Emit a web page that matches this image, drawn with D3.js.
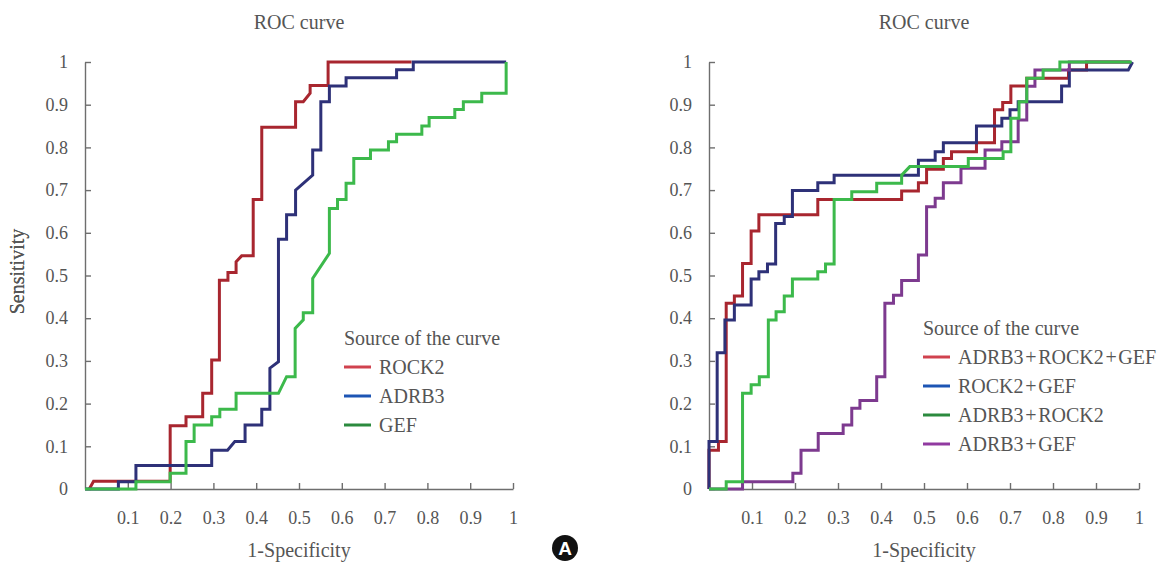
<!DOCTYPE html>
<html>
<head>
<meta charset="utf-8">
<script src="https://cdn.jsdelivr.net/npm/d3@7"></script>
<style>
  body { margin: 0; background: #fff; }
  svg text { font-family: "Liberation Serif", "DejaVu Serif", serif; fill: #555; }
</style>
</head>
<body>
<script>
// ROC curves: [1-specificity, sensitivity]
const rock2 = [[0.01,0],[0.02,0.018],[0.199,0.018],[0.199,0.148],[0.236,0.148],[0.236,0.169],[0.275,0.169],[0.275,0.224],[0.296,0.224],[0.296,0.302],[0.314,0.302],[0.314,0.489],[0.334,0.489],[0.334,0.507],[0.353,0.507],[0.353,0.532],[0.366,0.546],[0.393,0.546],[0.393,0.678],[0.413,0.678],[0.413,0.847],[0.492,0.847],[0.492,0.907],[0.51,0.907],[0.526,0.927],[0.526,0.945],[0.568,0.945],[0.568,1],[0.763,1]];
const adrb3 = [[0,0],[0.078,0],[0.078,0.017],[0.119,0.017],[0.119,0.055],[0.296,0.055],[0.296,0.091],[0.333,0.091],[0.35,0.111],[0.374,0.111],[0.374,0.15],[0.413,0.15],[0.413,0.187],[0.432,0.187],[0.432,0.283],[0.452,0.298],[0.452,0.585],[0.471,0.585],[0.471,0.642],[0.492,0.642],[0.492,0.7],[0.532,0.735],[0.532,0.794],[0.551,0.794],[0.551,0.907],[0.571,0.907],[0.571,0.944],[0.61,0.944],[0.61,0.963],[0.728,0.963],[0.728,0.982],[0.767,0.982],[0.767,1],[0.984,1]];
const gef = [[0,0],[0.119,0],[0.119,0.017],[0.199,0.017],[0.199,0.037],[0.236,0.037],[0.236,0.111],[0.255,0.111],[0.255,0.15],[0.296,0.15],[0.296,0.169],[0.315,0.169],[0.315,0.187],[0.353,0.187],[0.353,0.224],[0.452,0.224],[0.471,0.263],[0.491,0.263],[0.491,0.376],[0.51,0.396],[0.51,0.413],[0.532,0.413],[0.532,0.493],[0.571,0.552],[0.571,0.657],[0.59,0.657],[0.59,0.678],[0.61,0.678],[0.61,0.716],[0.628,0.716],[0.628,0.774],[0.667,0.774],[0.667,0.794],[0.709,0.794],[0.709,0.813],[0.728,0.813],[0.728,0.831],[0.787,0.831],[0.787,0.85],[0.804,0.85],[0.804,0.87],[0.864,0.87],[0.864,0.889],[0.884,0.889],[0.884,0.907],[0.927,0.907],[0.927,0.927],[0.984,0.927],[0.984,1]];

const adrb3Rock2Gef = [[0,0],[0,0.091],[0.022,0.091],[0.022,0.111],[0.04,0.111],[0.04,0.435],[0.059,0.435],[0.059,0.452],[0.078,0.452],[0.078,0.528],[0.098,0.528],[0.098,0.604],[0.116,0.604],[0.116,0.642],[0.253,0.642],[0.253,0.678],[0.448,0.678],[0.448,0.698],[0.487,0.698],[0.487,0.717],[0.506,0.717],[0.506,0.749],[0.545,0.749],[0.545,0.774],[0.564,0.774],[0.564,0.79],[0.622,0.79],[0.622,0.811],[0.664,0.811],[0.664,0.888],[0.683,0.888],[0.683,0.905],[0.702,0.905],[0.702,0.944],[0.739,0.944],[0.739,0.962],[0.836,0.962],[0.836,0.981],[0.878,0.981],[0.878,1],[0.98,1]];
const rock2Gef = [[0,0],[0,0.111],[0.019,0.111],[0.019,0.319],[0.037,0.319],[0.037,0.396],[0.059,0.396],[0.059,0.431],[0.098,0.431],[0.098,0.492],[0.116,0.492],[0.116,0.509],[0.136,0.509],[0.136,0.527],[0.155,0.527],[0.155,0.622],[0.175,0.622],[0.175,0.638],[0.194,0.638],[0.194,0.699],[0.253,0.699],[0.253,0.717],[0.291,0.717],[0.291,0.735],[0.487,0.735],[0.487,0.77],[0.526,0.77],[0.526,0.79],[0.545,0.79],[0.545,0.811],[0.622,0.811],[0.622,0.85],[0.681,0.85],[0.681,0.868],[0.7,0.868],[0.7,0.888],[0.719,0.888],[0.719,0.907],[0.82,0.907],[0.82,0.944],[0.838,0.944],[0.838,0.981],[0.975,0.981],[0.985,1]];
const adrb3Rock2 = [[0,0],[0.04,0],[0.04,0.017],[0.078,0.017],[0.078,0.224],[0.098,0.224],[0.098,0.244],[0.117,0.244],[0.117,0.263],[0.138,0.263],[0.138,0.396],[0.156,0.396],[0.156,0.415],[0.175,0.415],[0.175,0.452],[0.194,0.452],[0.194,0.492],[0.253,0.492],[0.253,0.509],[0.271,0.509],[0.271,0.527],[0.291,0.527],[0.291,0.678],[0.332,0.678],[0.332,0.696],[0.39,0.696],[0.39,0.716],[0.448,0.716],[0.448,0.735],[0.467,0.755],[0.603,0.755],[0.603,0.774],[0.684,0.774],[0.684,0.79],[0.702,0.79],[0.702,0.868],[0.721,0.868],[0.721,0.907],[0.739,0.907],[0.739,0.962],[0.777,0.962],[0.777,0.981],[0.816,0.981],[0.816,1],[0.983,1]];
const adrb3Gef = [[0,0],[0.078,0],[0.078,0.017],[0.195,0.017],[0.195,0.037],[0.214,0.037],[0.214,0.091],[0.254,0.091],[0.254,0.13],[0.312,0.13],[0.312,0.15],[0.332,0.15],[0.332,0.189],[0.351,0.189],[0.351,0.207],[0.39,0.207],[0.39,0.263],[0.409,0.263],[0.409,0.435],[0.429,0.435],[0.429,0.454],[0.448,0.454],[0.448,0.488],[0.487,0.488],[0.487,0.548],[0.506,0.548],[0.506,0.661],[0.526,0.661],[0.526,0.681],[0.545,0.681],[0.545,0.717],[0.586,0.717],[0.586,0.751],[0.642,0.751],[0.642,0.794],[0.681,0.794],[0.681,0.813],[0.719,0.813],[0.719,0.864],[0.739,0.864],[0.739,0.943],[0.758,0.943],[0.758,0.981],[0.838,0.981],[0.838,1],[0.98,1]];

const xTicks = [0.1, 0.2, 0.3, 0.4, 0.5, 0.6, 0.7, 0.8, 0.9, 1];
const yTicks = [0, 0.1, 0.2, 0.3, 0.4, 0.5, 0.6, 0.7, 0.8, 0.9, 1];

const leftSeries = [
  { name: "ROCK2", data: rock2, line: "#a8262f", key: "#d0424e" },
  { name: "ADRB3", data: adrb3, line: "#2e3178", key: "#1d55b4" },
  { name: "GEF", data: gef, line: "#3cb94b", key: "#2b8a3e" }
];
const rightSeries = [
  { name: "ADRB3\u200a+\u200aROCK2\u200a+\u200aGEF", data: adrb3Rock2Gef, line: "#a8262f", key: "#d0424e" },
  { name: "ROCK2\u200a+\u200aGEF", data: rock2Gef, line: "#2e3178", key: "#1d55b4" },
  { name: "ADRB3\u200a+\u200aROCK2", data: adrb3Rock2, line: "#3cb94b", key: "#2b8a3e" },
  { name: "ADRB3\u200a+\u200aGEF", data: adrb3Gef, line: "#7d3a8f", key: "#913aa0" }
];
// draw order (purple under green on the right)
const rightOrder = [0, 1, 3, 2];

const serif = '"Liberation Serif", "DejaVu Serif", serif';

const svg = d3.select("body").append("svg")
  .attr("width", 1159)
  .attr("height", 562);

function panel(left, w, series, order, legendX, legendY) {
  const top = 62, h = 427;
  const x = d3.scaleLinear().domain([0, 1]).range([0, w]);
  const y = d3.scaleLinear().domain([0, 1]).range([h, 0]);
  const g = svg.append("g").attr("transform", "translate(" + left + "," + top + ")");

  // titles
  g.append("text").attr("x", w / 2).attr("y", -33).attr("text-anchor", "middle")
    .style("font-size", "20px").text("ROC curve");
  g.append("text").attr("x", w / 2).attr("y", h + 68).attr("text-anchor", "middle")
    .style("font-size", "20px").text("1-Specificity");
  g.append("text").attr("transform", "rotate(-90)")
    .attr("x", -h / 2 + 4).attr("y", -(left - 24)).attr("text-anchor", "middle")
    .style("font-size", "20px").text("Sensitivity");

  // axes, ticks pointing inward
  const xa = g.append("g").attr("transform", "translate(0," + h + ")")
    .call(d3.axisBottom(x).tickValues(xTicks).tickSize(-6).tickSizeOuter(0).tickPadding(22)
      .tickFormat(d3.format("~g")));
  const ya = g.append("g")
    .call(d3.axisLeft(y).tickValues(yTicks).tickSize(-6).tickSizeOuter(0).tickPadding(17)
      .tickFormat(d3.format("~g")));
  [xa, ya].forEach(a => {
    a.attr("font-family", null);
    a.selectAll("path, line").attr("stroke", "#6e6e6e").attr("stroke-width", 1.4);
    a.selectAll("text").style("font-size", "18px").style("font-family", serif).style("fill", "#555");
  });

  const line = d3.line().x(d => x(d[0])).y(d => y(d[1]));
  order.forEach(i => {
    g.append("path").datum(series[i].data)
      .attr("d", line)
      .attr("fill", "none")
      .attr("stroke", series[i].line)
      .attr("stroke-width", 3);
  });

  // legend
  const lg = svg.append("g").attr("transform", "translate(" + legendX + "," + legendY + ")");
  lg.append("text").attr("x", 0).attr("y", 0).style("font-size", "20px").text("Source of the curve");
  series.forEach((s, i) => {
    const yy = 22 + i * 29;
    lg.append("line").attr("x1", 0).attr("x2", 27).attr("y1", yy).attr("y2", yy)
      .attr("stroke", s.key).attr("stroke-width", 3);
    lg.append("text").attr("x", 35).attr("y", yy + 7).style("font-size", "20px").text(s.name);
  });
}

panel(85, 428, leftSeries, [0, 1, 2], 344, 345);
panel(709, 430, rightSeries, rightOrder, 923, 335);

// panel badge
svg.append("circle").attr("cx", 565).attr("cy", 548).attr("r", 13).attr("fill", "#111");
svg.append("text").attr("x", 565).attr("y", 555).attr("text-anchor", "middle")
  .style("font-family", "Liberation Sans, Arial, sans-serif").style("font-size", "19px")
  .style("font-weight", "bold").style("fill", "#fff").text("A");
</script>
</body>
</html>
